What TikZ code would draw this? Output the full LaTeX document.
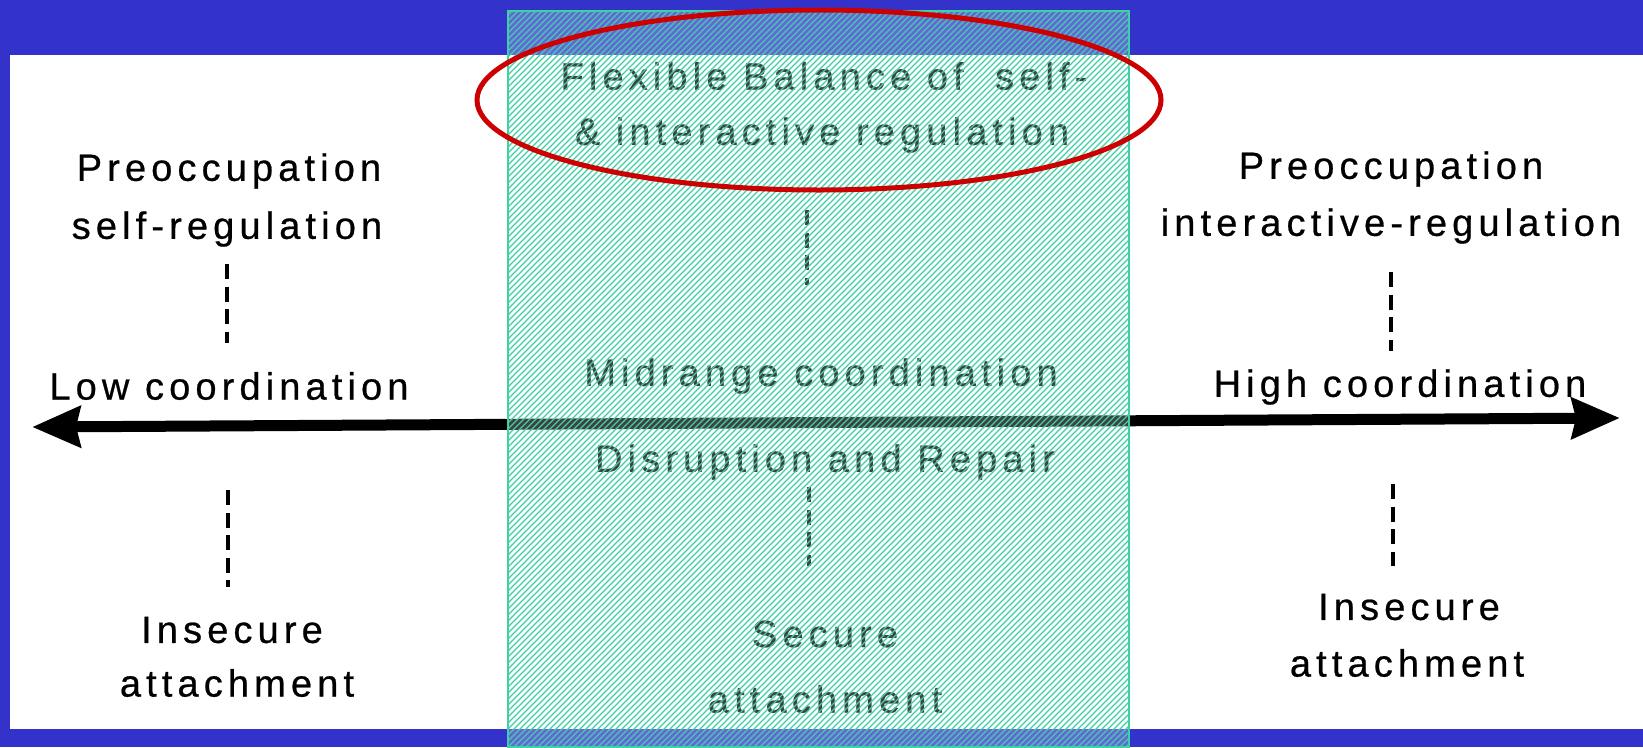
\documentclass[tikz,border=0pt]{standalone}
\usepackage{fontspec}
\newfontfamily\lab{Liberation Sans}[LetterSpace=13.5,FakeBold=0.6]
\usetikzlibrary{arrows.meta}
\definecolor{bgblue}{RGB}{51,51,204}
\definecolor{hatchgreen}{RGB}{60,210,165}
\definecolor{ellred}{RGB}{204,0,0}
\begin{document}
\begin{tikzpicture}[x=1pt,y=-1pt,
  lbl/.style={inner sep=0pt, font=\lab\fontsize{38}{40}\selectfont},
  dashline/.style={line width=4pt, dash pattern=on 15pt off 7.5pt},
  hatch/.style={hatchgreen, line width=1.3pt},
  axis/.style={line width=11pt, {Stealth[length=48pt,width=40pt,inset=4pt]}-{Stealth[length=48pt,width=40pt,inset=4pt]}}]
\useasboundingbox (0,0) rectangle (1643,747);
% background
\fill[bgblue] (0,0) rectangle (1643,747);
\fill[white] (10,55) rectangle (1643,729);
% axis
\coordinate (L) at (32,427);
\coordinate (R) at (1620,418);
\draw[axis] (L) -- (R);
% left column
\node[lbl] (lp1) at (229,171) {Preoccupation};
\node[lbl] (lp2) at (227,229) {self-regulation};
\node[lbl] (low) at (229,386) {Low coordination};
\node[lbl] (li1) at (232,630) {Insecure};
\node[lbl] (li2) at (237,683) {attachment};
\coordinate (ld1a) at (227,264); \coordinate (ld1b) at (227,343);
\coordinate (ld2a) at (228,490); \coordinate (ld2b) at (228,587);
\draw[dashline] (ld1a) -- (ld1b);
\draw[dashline] (ld2a) -- (ld2b);
% right column
\node[lbl] (rp1) at (1391,169) {Preoccupation};
\node[lbl] (rp2) at (1391,226) {interactive-regulation};
\node[lbl] (high) at (1400,387) {High coordination};
\node[lbl] (ri1) at (1409,607) {Insecure};
\node[lbl] (ri2) at (1407,663) {attachment};
\coordinate (rd1a) at (1391,272); \coordinate (rd1b) at (1391,351);
\coordinate (rd2a) at (1393,484); \coordinate (rd2b) at (1393,566);
\draw[dashline] (rd1a) -- (rd1b);
\draw[dashline] (rd2a) -- (rd2b);
% centre column
\node[lbl] (c1) at (824,76) {Flexible Balance of\ \ self-};
\node[lbl] (c2) at (822,135) {\& interactive regulation};
\node[lbl] (mid) at (821,376) {Midrange coordination};
\node[lbl] (dis) at (825,462) {Disruption and Repair};
\node[lbl] (s1) at (825,634) {Secure};
\node[lbl] (s2) at (825,699) {attachment};
\coordinate (cd1a) at (807,210); \coordinate (cd1b) at (807,285);
\coordinate (cd2a) at (809,487); \coordinate (cd2b) at (809,566);
\draw[dashline] (cd1a) -- (cd1b);
\draw[dashline] (cd2a) -- (cd2b);
% hatched translucent box
\fill[white, opacity=0.25] (508,11) rectangle (1129,747);
\begin{scope}
  \clip (508,11) rectangle (1129,747);
  \foreach \i in {0,...,230} {
    \draw[hatch] ({-230+\i*6},747) -- ++(736,-736);
  }
\end{scope}
\draw[hatchgreen, line width=1.5pt] (508,11) rectangle (1129,747);
% red ellipse
\draw[ellred, line width=5pt] (819,100) ellipse [x radius=342, y radius=90];
\end{tikzpicture}
\end{document}
